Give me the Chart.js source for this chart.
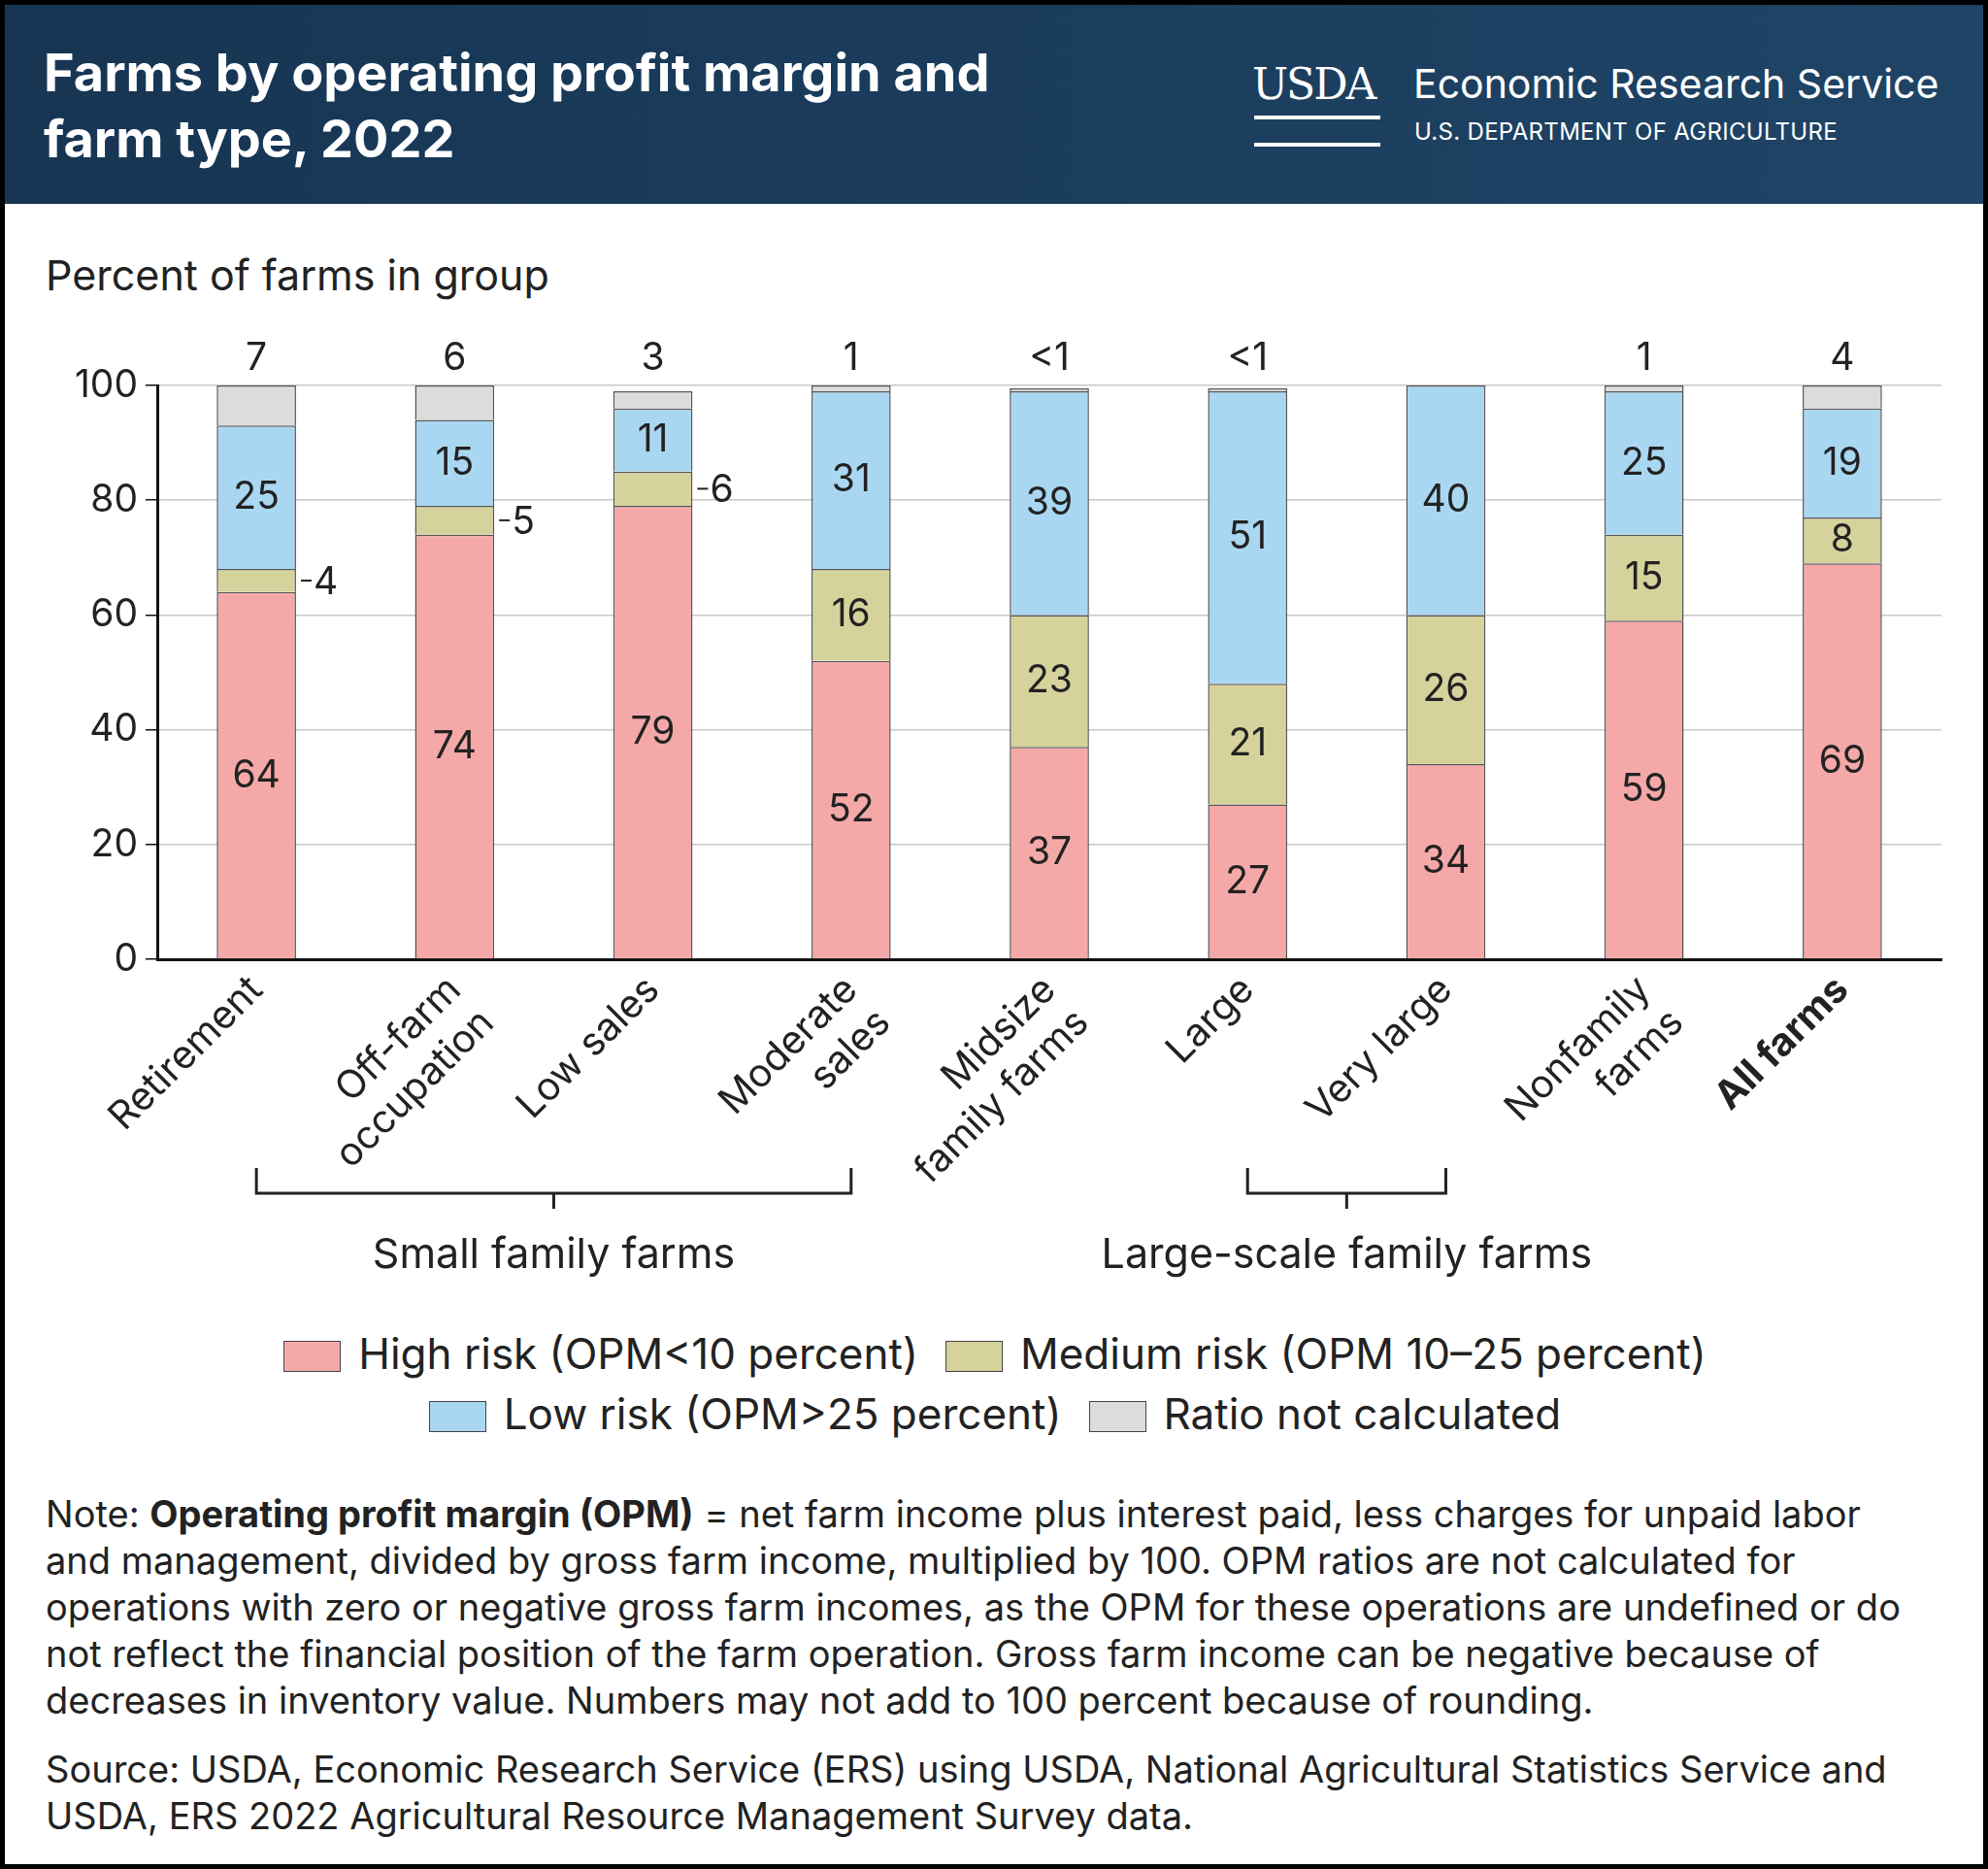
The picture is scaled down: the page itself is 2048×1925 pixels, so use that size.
<!DOCTYPE html>
<html><head><meta charset="utf-8">
<script src="https://cdn.jsdelivr.net/npm/chart.js@4"></script>
<style>
body{margin:0;background:#fff;font-family:Inter,"Noto Sans",sans-serif;}
#page{position:relative;width:2048px;height:1925px;box-sizing:border-box;border:5px solid #000;overflow:hidden;}
#head{position:absolute;left:0;top:0;width:2040px;height:205px;background:linear-gradient(90deg,#173553,#1f4466);color:#fff;}
#title{position:absolute;left:40px;top:36px;font-size:54px;font-weight:700;line-height:68px;}
#logo{position:absolute;left:1285px;top:52px;}
#usda{position:absolute;left:0;top:4px;font-family:"DejaVu Serif",serif;font-size:44px;letter-spacing:-2px;}
#usda:after{content:"";position:absolute;left:2px;top:58px;width:130px;height:24px;border-top:4px solid #fff;border-bottom:4px solid #fff;}
#ers{position:absolute;left:166px;top:4px;font-size:41px;white-space:nowrap;}
#dept{position:absolute;left:167px;top:64px;font-size:24px;white-space:nowrap;letter-spacing:0.3px;}
#ylab{position:absolute;left:42px;top:252px;font-size:43px;color:#222;}
#wrap{position:absolute;left:0;top:340px;width:2040px;height:990px;}
.leg{position:absolute;left:0;width:2040px;text-align:center;font-size:44px;color:#222;}
.leg span{display:inline-block;margin:0 14px;}
.sw{display:inline-block;width:57px;height:30px;border:1.5px solid #444;vertical-align:-3px;margin-right:18px;}
#note{position:absolute;left:42px;top:1530px;width:1935px;font-size:38px;line-height:48px;color:#222;}
#src{position:absolute;left:42px;top:1793px;width:1980px;font-size:38px;line-height:48px;color:#222;}
</style></head><body>
<div id="page">
<div id="head">
<div id="title">Farms by operating profit margin and<br>farm type, 2022</div>
<div id="logo"><div id="usda">USDA</div><div id="ers">Economic Research Service</div><div id="dept">U.S. DEPARTMENT OF AGRICULTURE</div></div>
</div>
<div id="ylab">Percent of farms in group</div>
<div id="wrap"><canvas id="c" width="2040" height="990"></canvas></div>
<div class="leg" style="top:1362px"><span><i class="sw" style="background:#f4a9a8"></i>High risk (OPM&lt;10 percent)</span><span><i class="sw" style="background:#d5d39b"></i>Medium risk (OPM 10–25 percent)</span></div>
<div class="leg" style="top:1424px"><span><i class="sw" style="background:#a9d7f1"></i>Low risk (OPM&gt;25 percent)</span><span><i class="sw" style="background:#dcdcdc"></i>Ratio not calculated</span></div>
<div id="note">Note: <b>Operating profit margin (OPM)</b> = net farm income plus interest paid, less charges for unpaid labor and management, divided by gross farm income, multiplied by 100. OPM ratios are not calculated for operations with zero or negative gross farm incomes, as the OPM for these operations are undefined or do not reflect the financial position of the farm operation. Gross farm income can be negative because of decreases in inventory value. Numbers may not add to 100 percent because of rounding.</div>
<div id="src">Source: USDA, Economic Research Service (ERS) using USDA, National Agricultural Statistics Service and USDA, ERS 2022 Agricultural Resource Management Survey data.</div>
</div>
<script>
// data
var categories = [['Retirement'], ['Off-farm', 'occupation'], ['Low sales'], ['Moderate', 'sales'], ['Midsize', 'family farms'], ['Large'], ['Very large'], ['Nonfamily', 'farms'], ['All farms']];
var highRisk = [64, 74, 79, 52, 37, 27, 34, 59, 69];
var mediumRisk = [4, 5, 6, 16, 23, 21, 26, 15, 8];
var lowRisk = [25, 15, 11, 31, 39, 51, 40, 25, 19];
var notCalc = [7, 6, 3, 1, 0.5, 0.5, 0, 1, 4];
var notCalcLabels = ['7', '6', '3', '1', '<1', '<1', '', '1', '4'];
var yTicks = [0, 20, 40, 60, 80, 100];
var groups = [{label: 'Small family farms', from: 0, to: 3}, {label: 'Large-scale family farms', from: 5, to: 6}];

var FONT = 'Inter, "Noto Sans", sans-serif';

var labelPlugin = {
    id: 'labels',
    afterDatasetsDraw: function(chart) {
        var c = chart.ctx, x = chart.scales.x, y = chart.scales.y;
        c.save();
        c.font = '39px ' + FONT;
        c.fillStyle = '#222';
        c.textAlign = 'center';
        c.textBaseline = 'middle';
        for (var i = 0; i < categories.length; i++) {
            var px = x.getPixelForValue(i);
            var h = highRisk[i], m = mediumRisk[i], l = lowRisk[i];
            c.fillText(h, px, y.getPixelForValue(h / 2));
            if (m >= 8) {
                c.fillText(m, px, y.getPixelForValue(h + m / 2));
            } else {
                var bar = chart.getDatasetMeta(1).data[i];
                var ey = y.getPixelForValue(h + m / 2);
                var ex = px + bar.width / 2;
                c.strokeStyle = '#222'; c.lineWidth = 2;
                c.beginPath(); c.moveTo(ex + 5, ey); c.lineTo(ex + 16, ey); c.stroke();
                c.textAlign = 'left';
                c.fillText(m, ex + 18, ey + 2);
                c.textAlign = 'center';
            }
            c.fillText(l, px, y.getPixelForValue(h + m + l / 2));
            c.fillText(notCalcLabels[i], px, y.top - 28);
        }
        // group brackets
        c.strokeStyle = '#222'; c.lineWidth = 3;
        groups.forEach(function(g) {
            var x1 = x.getPixelForValue(g.from), x2 = x.getPixelForValue(g.to);
            var by = 884, mid = (x1 + x2) / 2;
            c.beginPath();
            c.moveTo(x1, by - 26); c.lineTo(x1, by); c.lineTo(x2, by); c.lineTo(x2, by - 26);
            c.moveTo(mid, by); c.lineTo(mid, by + 16);
            c.stroke();
            c.font = '43px ' + FONT;
            c.fillText(g.label, mid, by + 64);
        });
        c.restore();
    }
};

var ds = function(label, data, color) {
    return {label: label, data: data, backgroundColor: color, borderColor: '#555', borderWidth: 1.5,
        barPercentage: 0.4, categoryPercentage: 1};
};

new Chart(document.getElementById('c').getContext('2d'), {
    type: 'bar',
    data: {
        labels: categories,
        datasets: [
            ds('High risk', highRisk, '#f4a9a8'),
            ds('Medium risk', mediumRisk, '#d5d39b'),
            ds('Low risk', lowRisk, '#a9d7f1'),
            ds('Ratio not calculated', notCalc, '#dcdcdc')
        ]
    },
    plugins: [labelPlugin],
    options: {
        responsive: false,
        animation: false,
        layout: {padding: {top: 52, right: 45, left: 0, bottom: 0}},
        plugins: {legend: {display: false}, tooltip: {enabled: false}},
        scales: {
            x: {
                stacked: true,
                grid: {display: false, drawTicks: false},
                border: {color: '#111', width: 3},
                afterFit: function(s) { s.height = 347; },
                ticks: {
                    color: '#222', minRotation: 45, maxRotation: 45, padding: 8,
                    font: function(ctx) { return {size: 40, family: FONT, weight: ctx.index === 8 ? 'bold' : 'normal'}; }
                }
            },
            y: {
                stacked: true, min: 0, max: 100,
                afterFit: function(s) { s.width = 157; },
                afterBuildTicks: function(s) { s.ticks = yTicks.map(function(v) { return {value: v}; }); },
                grid: {color: '#c8c8c8', lineWidth: 1.5, tickColor: '#111', tickLength: 12},
                border: {color: '#111', width: 3},
                ticks: {color: '#222', padding: 8, font: {size: 39, family: FONT}}
            }
        }
    }
});
</script>
</body></html>
